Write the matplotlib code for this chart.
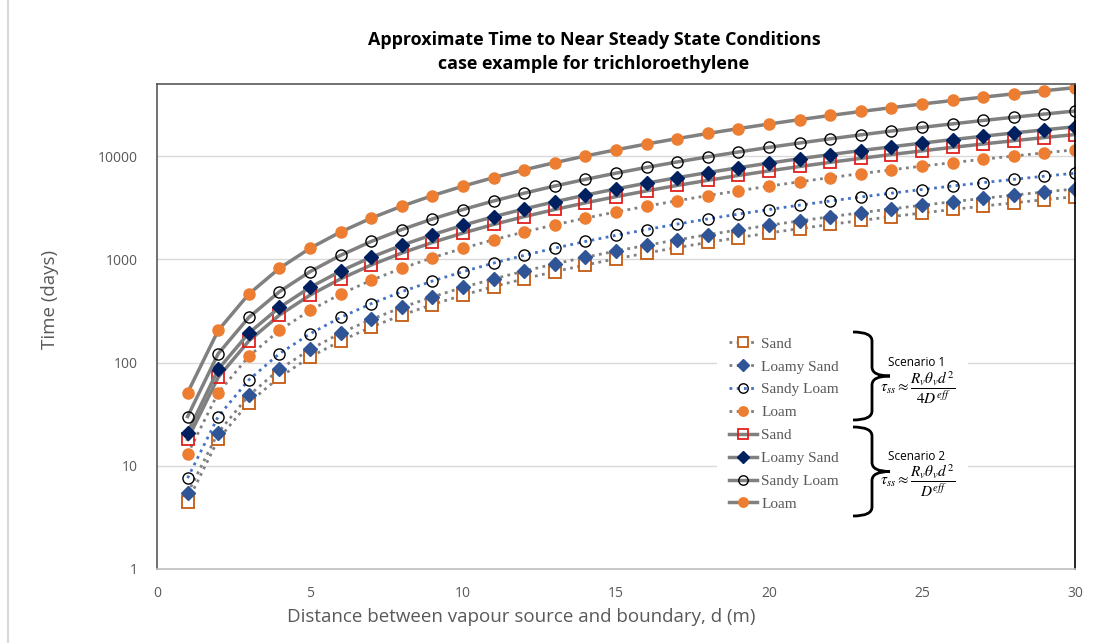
import numpy as np
import matplotlib
matplotlib.use("Agg")
import matplotlib.pyplot as plt
from matplotlib.path import Path
from matplotlib.patches import PathPatch, Rectangle

W, H = 1118, 643
plt.rcParams["mathtext.fontset"] = "stix"

# distance d (m)
dist = list(range(1, 31))

# Scenario 1 (tau = R theta d^2 / 4D)
s1_sand = [4.5, 18, 41, 72, 113, 162, 221, 288, 365, 450, 545, 648, 761, 882, 1013,
           1152, 1301, 1458, 1625, 1800, 1985, 2178, 2381, 2592, 2813, 3042, 3281, 3528, 3785, 4050]
s1_loamy_sand = [5.4, 21, 48, 86, 134, 193, 262, 342, 433, 535, 647, 770, 904, 1049, 1204,
                 1370, 1546, 1733, 1931, 2140, 2359, 2589, 2830, 3082, 3344, 3617, 3900, 4194, 4499, 4815]
s1_sandy_loam = [7.6, 30, 68, 122, 190, 274, 372, 486, 616, 760, 920, 1094, 1284, 1490, 1710,
                 1946, 2196, 2462, 2744, 3040, 3352, 3678, 4020, 4378, 4750, 5138, 5540, 5958, 6392, 6840]
s1_loam = [13, 51, 115, 205, 320, 461, 627, 819, 1037, 1280, 1549, 1843, 2163, 2509, 2880,
           3277, 3699, 4147, 4621, 5120, 5645, 6195, 6771, 7373, 8000, 8653, 9331, 10035, 10765, 11520]

# Scenario 2 (tau = R theta d^2 / D)
s2_sand = [18, 72, 162, 288, 450, 648, 882, 1152, 1458, 1800, 2178, 2592, 3042, 3528, 4050,
           4608, 5202, 5832, 6498, 7200, 7938, 8712, 9522, 10368, 11250, 12168, 13122, 14112, 15138, 16200]
s2_loamy_sand = [21, 86, 193, 342, 535, 770, 1049, 1370, 1733, 2140, 2589, 3082, 3617, 4194, 4815,
                 5478, 6185, 6934, 7725, 8560, 9437, 10358, 11321, 12326, 13375, 14466, 15601, 16778, 17997, 19260]
s2_sandy_loam = [30, 122, 274, 486, 760, 1094, 1490, 1946, 2462, 3040, 3678, 4378, 5138, 5958, 6840,
                 7782, 8786, 9850, 10974, 12160, 13406, 14714, 16082, 17510, 19000, 20550, 22162, 23834, 25566, 27360]
s2_loam = [51, 205, 461, 819, 1280, 1843, 2509, 3277, 4147, 5120, 6195, 7373, 8653, 10035, 11520,
           13107, 14797, 16589, 18483, 20480, 22579, 24781, 27085, 29491, 32000, 34611, 37325, 40141, 43059, 46080]

labels = ["Sand", "Loamy Sand", "Sandy Loam", "Loam"]
y_ticks = [1, 10, 100, 1000, 10000]
x_ticks = [0, 5, 10, 15, 20, 25, 30]

GRAY = "#595959"
LINE = "#808080"
ORANGE = "#ED7D31"


def px(x, y):
    return (x / W, 1 - y / H)


fig = plt.figure(figsize=(W / 100, H / 100), dpi=100)
ax = fig.add_axes([157 / W, 1 - 569 / H, (1075 - 157) / W, (569 - 84) / H])

dot = (0, (1, 1.6))
# scenario 1, dotted
l1a, = ax.plot(dist, s1_sand, ls=dot, color=LINE, lw=2, marker="s", ms=8, mfc="white",
               mec="#C55A11", mew=1.3, label=labels[0])
l1b, = ax.plot(dist, s1_loamy_sand, ls=dot, color=LINE, lw=2, marker="D", ms=7,
               mfc="#2F5597", mec="#2F5597", label=labels[1])
l1c, = ax.plot(dist, s1_sandy_loam, ls=dot, color="#4472C4", lw=2, marker="o", ms=8,
               mfc="none", mec="black", mew=1.0, label=labels[2])
l1d, = ax.plot(dist, s1_loam, ls=dot, color=LINE, lw=2, marker="o", ms=8,
               mfc=ORANGE, mec=ORANGE, label=labels[3])

# scenario 2, solid
l2a, = ax.plot(dist, s2_sand, ls="-", color=LINE, lw=2.5, marker="s", ms=8, mfc="none",
               mec="#E0201B", mew=1.3, label=labels[0])
l2b, = ax.plot(dist, s2_loamy_sand, ls="-", color=LINE, lw=2.5, marker="D", ms=7,
               mfc="#002060", mec="#002060", label=labels[1])
l2c, = ax.plot(dist, s2_sandy_loam, ls="-", color=LINE, lw=2.5, marker="o", ms=8,
               mfc="none", mec="black", mew=1.0, label=labels[2])
l2d, = ax.plot(dist, s2_loam, ls="-", color=LINE, lw=2.5, marker="o", ms=8,
               mfc=ORANGE, mec=ORANGE, label=labels[3])

ax.set_yscale("log")
ax.set_xlim(0, 30)
ax.set_ylim(1, 50000)
ax.set_yticks(y_ticks)
ax.set_yticklabels([str(v) for v in y_ticks])
ax.yaxis.set_minor_locator(matplotlib.ticker.NullLocator())
ax.set_xticks(x_ticks)
ax.tick_params(length=0, labelsize=10, labelcolor=GRAY)
ax.tick_params(axis="y", pad=14)
ax.tick_params(axis="x", pad=12)
for t in ax.get_xticklabels() + ax.get_yticklabels():
    t.set_fontfamily("Open Sans")
ax.grid(axis="y", color="#D9D9D9", lw=1)
ax.set_axisbelow(True)
ax.spines["left"].set_color(GRAY)
ax.spines["top"].set_color(GRAY)
ax.spines["bottom"].set_color("#BFBFBF")
ax.spines["right"].set_color("black")
for s in ax.spines.values():
    s.set_linewidth(1.2)

# chart border (runs off the right and bottom edges)
fig.patches.append(Rectangle(px(8, 660), 1.2, 1.2, transform=fig.transFigure, fill=False,
                             ec="#D9D9D9", lw=1.5))

fig.text(594 / W, 1 - 40 / H, "Approximate Time to Near Steady State Conditions",
         ha="center", va="center", fontsize=12.9, fontweight="bold", family="Open Sans")
fig.text(594 / W, 1 - 64 / H, "case example for trichloroethylene",
         ha="center", va="center", fontsize=12.9, fontweight="bold", family="Open Sans")
fig.text(521 / W, 1 - 617 / H, "Distance between vapour source and boundary, d (m)",
         ha="center", va="center", fontsize=13.5, color=GRAY, family="Open Sans")
fig.text(50 / W, 1 - 299 / H, "Time (days)", ha="center", va="center", rotation=90,
         fontsize=13.5, color=GRAY, family="Open Sans")

# white box behind legend/annotation
ax.add_patch(Rectangle(px(717, 520), (968 - 717) / W, (520 - 328) / H, transform=fig.transFigure,
                       fc="white", ec="none", zorder=5))

leg = ax.legend(handles=[l1a, l1b, l1c, l1d, l2a, l2b, l2c, l2d], loc="upper left",
                bbox_to_anchor=px(729, 337), bbox_transform=fig.transFigure, frameon=False,
                prop={"family": "Liberation Serif", "size": 11}, handlelength=1.8,
                handletextpad=0.3, labelspacing=0.6, borderpad=0, borderaxespad=0,
                markerscale=0.85)
for t in leg.get_texts():
    t.set_color(GRAY)
leg.set_zorder(6)


def brace(y_top, y_bot, x0=853, x1=872, x2=890):
    ym = (y_top + y_bot) / 2
    r = 9
    verts = [px(x0, y_top), px(x1, y_top), px(x1, y_top + r),
             px(x1, ym - r), px(x1, ym), px(x2, ym),
             px(x1, ym), px(x1, ym + r),
             px(x1, y_bot - r), px(x1, y_bot), px(x0, y_bot)]
    codes = [Path.MOVETO, Path.CURVE3, Path.CURVE3,
             Path.LINETO, Path.CURVE3, Path.CURVE3,
             Path.CURVE3, Path.CURVE3,
             Path.LINETO, Path.CURVE3, Path.CURVE3]
    fig.patches.append(PathPatch(Path(verts, codes), transform=fig.transFigure,
                                 fill=False, ec="black", lw=2))


brace(332, 420)
brace(427, 516)

fig.text(917 / W, 1 - 363 / H, "Scenario 1", ha="center", va="center", fontsize=8.5,
         family="Open Sans")
fig.text(918 / W, 1 - 388 / H, r"$\tau_{ss} \approx \dfrac{R_v\theta_v d^2}{4D^{eff}}$",
         ha="center", va="center", fontsize=11)
fig.text(917 / W, 1 - 457 / H, "Scenario 2", ha="center", va="center", fontsize=8.5,
         family="Open Sans")
fig.text(918 / W, 1 - 481 / H, r"$\tau_{ss} \approx \dfrac{R_v\theta_v d^2}{D^{eff}}$",
         ha="center", va="center", fontsize=11)

fig.savefig("out.png", dpi=100)
